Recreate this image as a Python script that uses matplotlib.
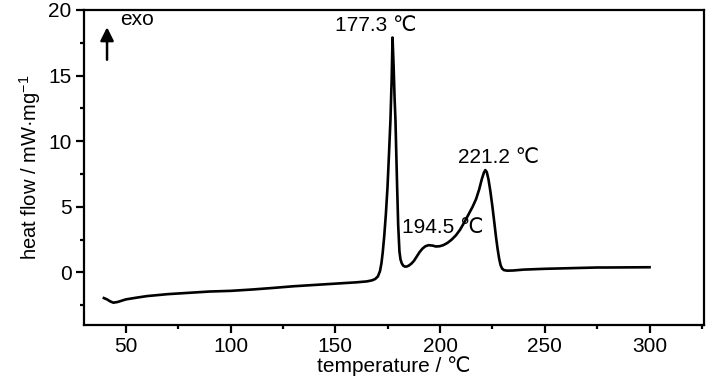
import matplotlib
matplotlib.use("Agg")
import matplotlib.pyplot as plt

# DSC curve
temp = [39.5, 41.0, 42.5, 44.0, 46, 50, 55, 60, 70, 80, 90, 100, 110, 120, 130,
        140, 150, 160, 165, 167.5, 169, 170.3, 171.3, 172.0, 172.6, 173.3, 174.1,
        174.9, 175.6, 176.3, 176.9, 177.3, 177.8, 178.3, 178.7, 179.1, 179.5,
        180.0, 180.6, 181.1, 181.7, 182.4, 183.2, 184.0, 185.0, 186.2, 187.5,
        188.8, 190.2, 191.6, 193.0, 194.5, 196.4, 198.0, 199.8, 201.5, 203.5,
        205.5, 207.5, 209.5, 211.5, 213.5, 215.5, 217.2, 218.7, 219.9, 220.9,
        221.6, 222.3, 223.1, 224.0, 225.0, 225.9, 226.7, 227.5, 228.2, 228.9,
        229.6, 230.5, 232, 234.7, 240, 250, 260, 270, 275, 280, 290, 300]
heat = [-1.95, -2.05, -2.2, -2.3, -2.25, -2.05, -1.92, -1.8, -1.65, -1.55,
        -1.45, -1.4, -1.3, -1.18, -1.05, -0.95, -0.85, -0.75, -0.68, -0.6,
        -0.5, -0.3, 0.1, 0.7, 1.5, 2.7, 4.4, 6.5, 9.0, 11.6, 14.8, 17.9, 15.8,
        13.2, 11.6, 9.0, 6.5, 3.6, 1.6, 1.0, 0.7, 0.52, 0.45, 0.45, 0.52, 0.66,
        0.88, 1.2, 1.55, 1.82, 2.0, 2.08, 2.05, 1.98, 2.0, 2.08, 2.25, 2.5,
        2.82, 3.25, 3.8, 4.4, 5.0, 5.6, 6.35, 7.1, 7.6, 7.8, 7.65, 7.1, 6.2,
        5.0, 3.8, 2.7, 1.75, 1.05, 0.55, 0.3, 0.18, 0.14, 0.15, 0.22, 0.28,
        0.32, 0.36, 0.38, 0.38, 0.39, 0.4]

peak_txt = ["177.3 ℃", "194.5 ℃", "221.2 ℃"]
peak_x = [169.3, 181.6, 227.9]
peak_y = [18.1, 2.7, 8.0]
peak_ha = ['center', 'left', 'center']

plt.rcParams['font.family'] = ['Liberation Sans', 'DejaVu Sans']
plt.rcParams['mathtext.fontset'] = 'custom'
plt.rcParams['mathtext.rm'] = 'Liberation Sans'
plt.rcParams['mathtext.it'] = 'Liberation Sans'

fig = plt.figure(figsize=(7.26, 3.9), dpi=100)
ax = fig.add_axes([0.1157, 0.1667, 0.9697 - 0.1157, 0.9744 - 0.1667])

ax.plot(temp, heat, color='black', lw=1.9, solid_joinstyle='round')

ax.set_xlim(30, 326)
ax.set_ylim(-4, 20)
ax.set_xticks([50, 100, 150, 200, 250, 300])
ax.set_xticks([75, 125, 175, 225, 275, 325], minor=True)
ax.set_yticks([0, 5, 10, 15, 20])
ax.set_yticks([-2.5, 2.5, 7.5, 12.5, 17.5], minor=True)
ax.tick_params(which='both', direction='out', width=1.6, labelsize=15)
ax.tick_params(which='major', length=5.5)
ax.tick_params(which='minor', length=3)
for s in ax.spines.values():
    s.set_linewidth(1.6)

ax.set_xlabel("temperature / ℃", fontsize=15, labelpad=0)
ax.set_ylabel("heat flow / mW·mg$^{-1}$", fontsize=14.5, labelpad=4)

for x, y, txt, ha in zip(peak_x, peak_y, peak_txt, peak_ha):
    ax.text(x, y, txt, fontsize=15, ha=ha, va='bottom')

ax.annotate("", xy=(41, 18.9), xytext=(41, 16.0),
            arrowprops=dict(arrowstyle='-|>', color='black', lw=1.8,
                            mutation_scale=20))
ax.text(47.3, 19.3, "exo", fontsize=15, ha='left', va='center')

fig.savefig("out.png", dpi=100)
